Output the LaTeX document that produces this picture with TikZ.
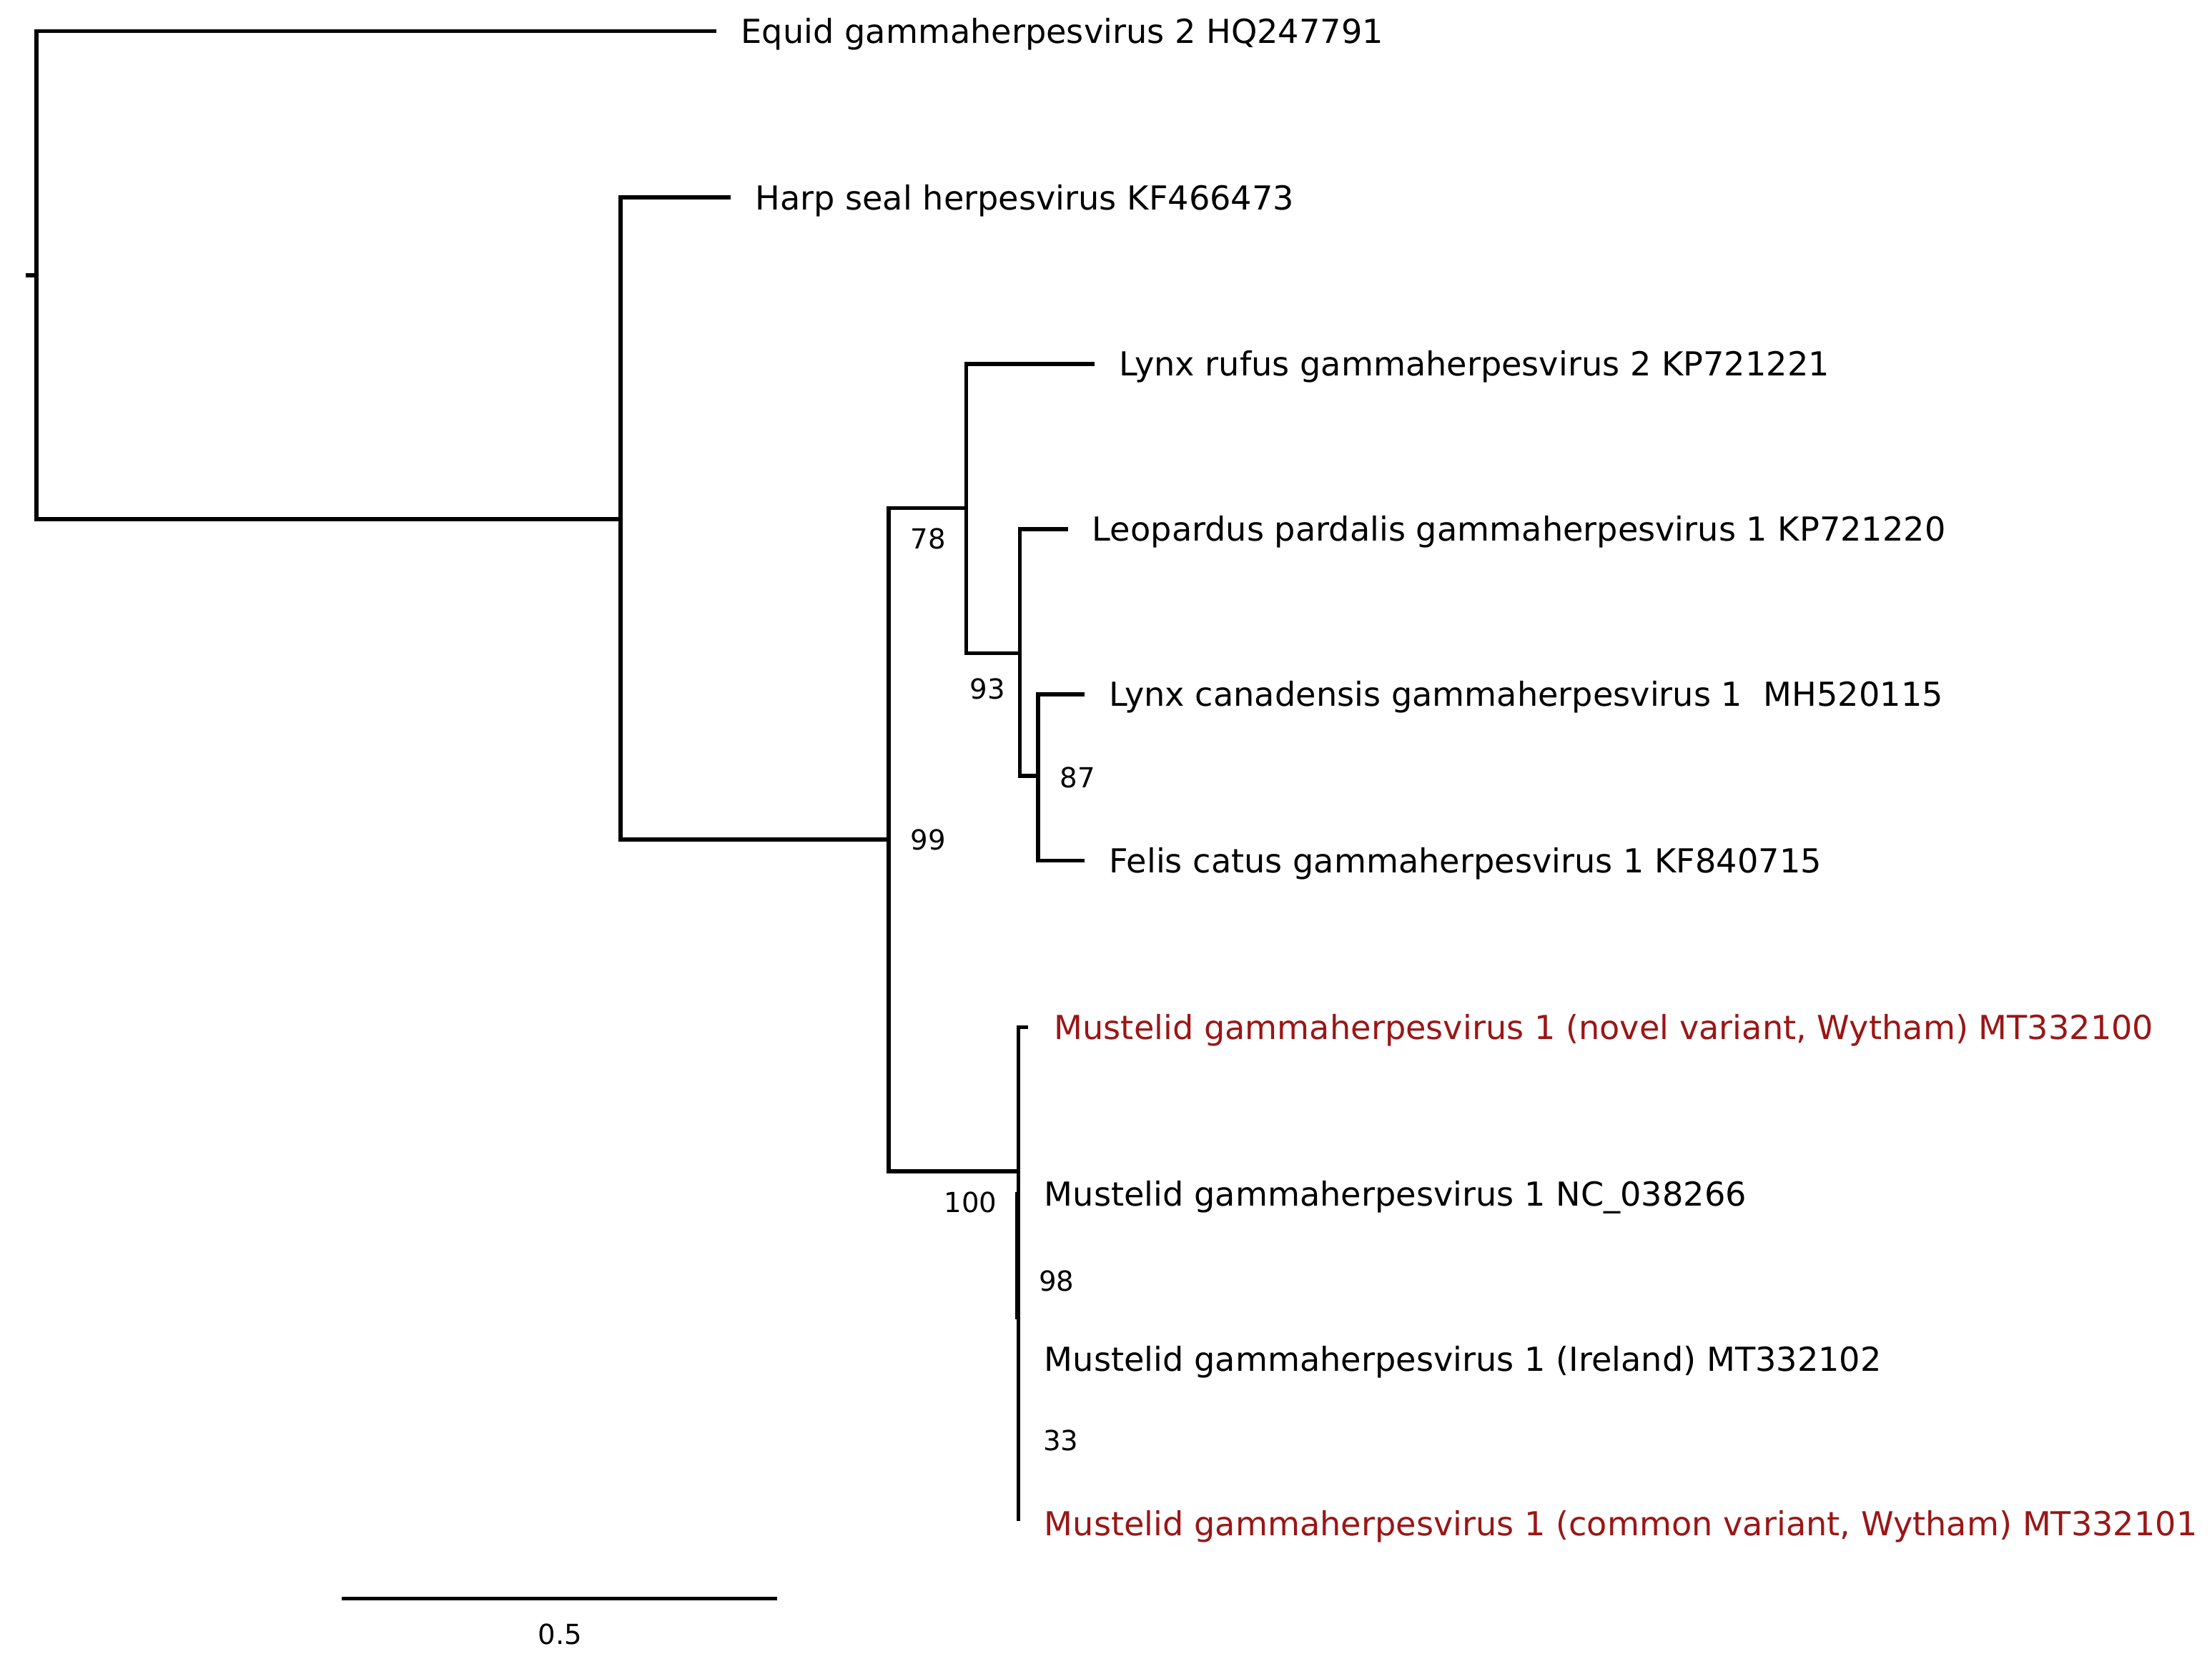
\documentclass[tikz,border=0pt]{standalone}
\usepackage{fontspec}
\setmainfont{DejaVu Sans}
\definecolor{mred}{RGB}{155,22,22}
\begin{document}
\begin{tikzpicture}[x=0.019732cm,y=-0.019732cm,
  br/.style={line width=1.6pt,line join=miter},
  lab/.style={anchor=base west,inner sep=0pt,font=\fontsize{13.15}{15}\selectfont},
  redlab/.style={lab,text=mred},
  boot/.style={anchor=center,inner sep=0pt,font=\fontsize{11}{13}\selectfont}]
\useasboundingbox (0,0) rectangle (1568,1179);
% internal nodes
\coordinate (stub) at (18,195);
\coordinate (root) at (26,195);
\coordinate (n2) at (440,368);
\coordinate (n3) at (630,595);
\coordinate (n4) at (685,360);
\coordinate (n6) at (723,463);
\coordinate (n7) at (736,550);
\coordinate (n5) at (722,830);
% tips
\coordinate (tEquid) at (508,22);
\coordinate (tHarp) at (518,140);
\coordinate (tLynxR) at (776,258);
\coordinate (tLeo) at (757,375);
\coordinate (tLynxC) at (769,492);
\coordinate (tFelis) at (769,610);
\coordinate (tNovel) at (729,728);
\coordinate (tCommon) at (722,1078);
\coordinate (thA) at (721.5,845);
\coordinate (thB) at (721.5,935);
% branches
\draw[br] (stub) -- (root);
\draw[br] (root) |- (tEquid);
\draw[br] (root) |- (n2);
\draw[br] (n2) |- (tHarp);
\draw[br] (n2) |- (n3);
\draw[br] (n3) |- (n4);
\draw[br] (n3) |- (n5);
\draw[br] (n4) |- (tLynxR);
\draw[br] (n4) |- (n6);
\draw[br] (n6) |- (tLeo);
\draw[br] (n6) |- (n7);
\draw[br] (n7) |- (tLynxC);
\draw[br] (n7) |- (tFelis);
\draw[br] (n5) |- (tNovel);
\draw[br] (n5) -- (tCommon);
\draw[line width=2pt] (thA) -- (thB);
% tip labels
\node[lab] (lEquid) at (525,30.5) {Equid gammaherpesvirus 2 HQ247791};
\node[lab] (lHarp) at (535,148.5) {Harp seal herpesvirus KF466473};
\node[lab] (lLynxR) at (793,266.5) {Lynx rufus gammaherpesvirus 2 KP721221};
\node[lab] (lLeo) at (774,383.5) {Leopardus pardalis gammaherpesvirus 1 KP721220};
\node[lab] (lLynxC) at (786,500.5) {Lynx canadensis gammaherpesvirus 1\ \ MH520115};
\node[lab] (lFelis) at (786,618.5) {Felis catus gammaherpesvirus 1 KF840715};
\node[redlab] (lNovel) at (747,736.5) {Mustelid gammaherpesvirus 1 (novel variant, Wytham) MT332100};
\node[lab] (lNC) at (740,854.5) {Mustelid gammaherpesvirus 1 NC\_038266};
\node[lab] (lIre) at (740,971.5) {Mustelid gammaherpesvirus 1 (Ireland) MT332102};
\node[redlab] (lCommon) at (740,1088.5) {Mustelid gammaherpesvirus 1 (common variant, Wytham) MT332101};
% support values
\node[boot] (b78) at (658,382) {78};
\node[boot] (b93) at (700,488) {93};
\node[boot] (b87) at (764,551) {87};
\node[boot] (b99) at (658,595) {99};
\node[boot] (b100) at (688,852) {100};
\node[boot] (b98) at (749,908) {98};
\node[boot] (b33) at (752,1021) {33};
% scale bar
\coordinate (sbL) at (242,1133);
\coordinate (sbR) at (551,1133);
\draw[br] (sbL) -- (sbR);
\node[boot] (sbLab) at (397,1158) {0.5};
\end{tikzpicture}
\end{document}
